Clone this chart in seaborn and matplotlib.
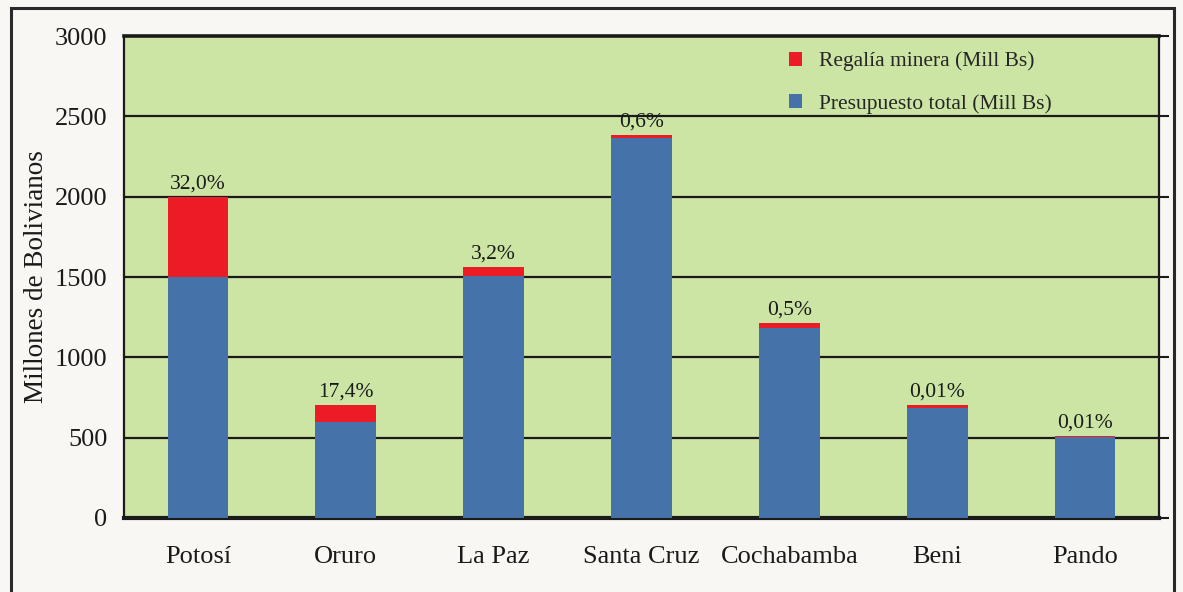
import matplotlib
matplotlib.use("Agg")
import matplotlib.pyplot as plt
import seaborn as sns
import pandas as pd
from matplotlib.patches import Rectangle

departamentos = ["Potosí", "Oruro", "La Paz", "Santa Cruz", "Cochabamba", "Beni", "Pando"]
presupuesto = [1500, 600, 1505, 2365, 1185, 685, 505]
regalia = [500, 105, 58, 22, 30, 20, 8]
etiquetas = ["32,0%", "17,4%", "3,2%", "0,6%", "0,5%", "0,01%", "0,01%"]
yticks = [0, 500, 1000, 1500, 2000, 2500, 3000]

total = [p + r for p, r in zip(presupuesto, regalia)]
df = pd.DataFrame({"Departamento": departamentos, "Presupuesto": presupuesto,
                   "Total": total})

sns.set_style("white")
plt.rcParams["font.family"] = ["Liberation Serif", "DejaVu Serif"]

BG = "#F8F7F3"
GREEN = "#CCE5A4"
BLUE = "#4472A9"
RED = "#EC1C26"
INK = "#1a1a1a"

fig = plt.figure(figsize=(11.83, 5.92), dpi=100, facecolor=BG)
ax = fig.add_axes([0.1048, 0.125, 0.8749, 0.814])
ax.set_facecolor(GREEN)

for y in yticks[1:-1]:
    ax.axhline(y, color=INK, lw=1.6, zorder=1)

sns.barplot(data=df, x="Departamento", y="Total", color=RED, width=0.41,
            saturation=1, ax=ax, zorder=2, linewidth=0,
            label="Regalía minera (Mill Bs)")
sns.barplot(data=df, x="Departamento", y="Presupuesto", color=BLUE, width=0.41,
            saturation=1, ax=ax, zorder=3, linewidth=0,
            label="Presupuesto total (Mill Bs)")

for i, (t, lab) in enumerate(zip(total, etiquetas)):
    ax.text(i, t + 20, lab, ha="center", va="bottom", fontsize=15.5, color=INK, zorder=5)

ax.set_xlim(-0.5, len(departamentos) - 0.5)
ax.set_ylim(0, 3000)
ax.set_yticks(yticks)
ax.set_yticklabels([str(v) for v in yticks], fontsize=19, color=INK)
ax.set_xticks(range(len(departamentos)))
ax.set_xticklabels(departamentos, fontsize=19, color=INK)
ax.tick_params(axis="x", which="major", length=0, pad=20)
ax.set_xticks([k - 0.5 for k in range(len(departamentos) + 1)], minor=True)
ax.tick_params(axis="x", which="minor", length=8, width=1.5, direction="out", color=INK)
ax.tick_params(axis="y", length=7, width=1.5, direction="out", color=INK, right=True, pad=5)
ax.set_xlabel("")
ax.set_ylabel("Millones de Bolivianos", fontsize=19.5, labelpad=4, color=INK)

for side, lw in [("left", 1.6), ("right", 1.6), ("top", 2.6), ("bottom", 3.0)]:
    ax.spines[side].set_visible(True)
    ax.spines[side].set_color(INK)
    ax.spines[side].set_linewidth(lw)

handles, labels = ax.get_legend_handles_labels()
leg = ax.legend(handles, labels, loc="upper left", bbox_to_anchor=(0.624, 1.008),
                frameon=False, fontsize=15.5, handlelength=0.6, handleheight=0.6,
                handletextpad=0.8, labelspacing=1.05)

fig.patches.append(Rectangle((11 / 1183, -0.02), (1174 - 11) / 1183, 1.02 - 8 / 592,
                             transform=fig.transFigure, fill=False,
                             edgecolor="#2a2a2a", lw=2.2))

fig.savefig("out.png", dpi=100, facecolor=BG)
